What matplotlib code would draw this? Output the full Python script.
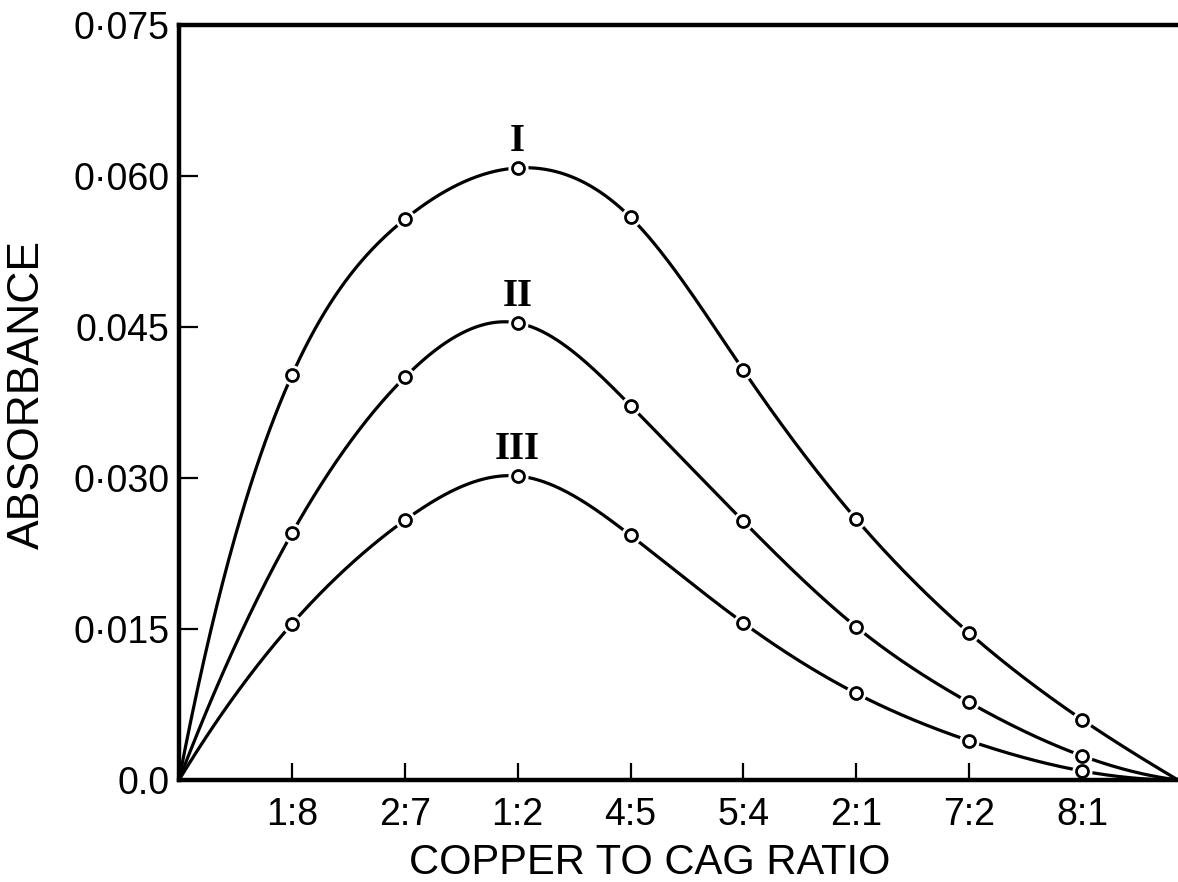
#!/usr/bin/env python3
"""
Absorbance vs copper to CAG ratio (curves I, II, III)
"""

import numpy as np
import matplotlib
matplotlib.use('Agg')
import matplotlib.pyplot as plt

plt.rcParams['font.family'] = ['Liberation Sans', 'DejaVu Sans']

# --- data ---
ratio_pos = [1, 2, 3, 4, 5, 6, 7, 8]
ratio_labels = ['1:8', '2:7', '1:2', '4:5', '5:4', '2:1', '7:2', '8:1']
curve_I = [0.0402, 0.0557, 0.0608, 0.0559, 0.0407, 0.0259, 0.0146, 0.0060]
curve_II = [0.0245, 0.0400, 0.0454, 0.0372, 0.0257, 0.0152, 0.0077, 0.0024]
curve_III = [0.0155, 0.0258, 0.0302, 0.0243, 0.0156, 0.0086, 0.0039, 0.0009]
curve_names = ['I', 'II', 'III']
y_ticks = [0.0, 0.015, 0.030, 0.045, 0.060, 0.075]
y_tick_labels = ['0.0', '0\u00b7015', '0\u00b7030', '0.045', '0\u00b7060', '0\u00b7075']

X_END = 8.85  # where the curves come back to zero (right edge of the plot)


def smooth_spline(x, y, xs):
    """Cubic spline with not-a-knot ends, only used to draw the curves"""
    x = np.asarray(x, float)
    y = np.asarray(y, float)
    n = len(x)
    h = np.diff(x)
    A = np.zeros((n, n))
    b = np.zeros(n)
    # not-a-knot: third derivative continuous at the 2nd and 2nd-last knots
    A[0, 0], A[0, 1], A[0, 2] = h[1], -(h[0] + h[1]), h[0]
    A[-1, -3], A[-1, -2], A[-1, -1] = h[-1], -(h[-2] + h[-1]), h[-2]
    for i in range(1, n - 1):
        A[i, i - 1] = h[i - 1]
        A[i, i] = 2 * (h[i - 1] + h[i])
        A[i, i + 1] = h[i]
        b[i] = 6 * ((y[i + 1] - y[i]) / h[i] - (y[i] - y[i - 1]) / h[i - 1])
    M = np.linalg.solve(A, b)
    idx = np.clip(np.searchsorted(x, xs) - 1, 0, n - 2)
    x0, x1 = x[idx], x[idx + 1]
    hh = x1 - x0
    t0 = x1 - xs
    t1 = xs - x0
    ys = (M[idx] * t0 ** 3 / (6 * hh) + M[idx + 1] * t1 ** 3 / (6 * hh)
          + (y[idx] / hh - M[idx] * hh / 6) * t0
          + (y[idx + 1] / hh - M[idx + 1] * hh / 6) * t1)
    return np.clip(ys, 0, None)


fig = plt.figure(figsize=(11.78, 8.82), dpi=100)
ax = fig.add_axes([179 / 1178, 102 / 882, 999 / 1178, 755 / 882])

for name, vals in zip(curve_names, [curve_I, curve_II, curve_III]):
    xk = [0] + ratio_pos + [X_END]
    yk = [0] + vals + [0]
    xs = np.linspace(0, X_END, 800)
    ax.plot(xs, smooth_spline(xk, yk, xs), color='black', lw=2.3,
            solid_capstyle='round', zorder=2)
    # white halo so the line stops short of each circle
    ax.plot(ratio_pos, vals, 'o', ms=14.5, mfc='white', mec='none', zorder=2.2)
    ax.plot(ratio_pos, vals, 'o', ms=8.6, mfc='white', mec='black',
            mew=2.0, zorder=3, clip_on=False)
    peak = max(vals)
    ax.text(ratio_pos[vals.index(peak)], peak + 0.0017, name,
            ha='center', va='baseline', fontsize=28, fontweight='bold',
            family=['Liberation Serif', 'DejaVu Serif'])

ax.set_xlim(0, X_END)
ax.set_ylim(0, 0.075)

ax.set_xticks(ratio_pos)
ax.set_xticklabels(ratio_labels)
ax.set_yticks(y_ticks)
ax.set_yticklabels(y_tick_labels)
ax.tick_params(axis='x', direction='in', length=12, width=1.6,
               labelsize=27, pad=12)
ax.tick_params(axis='y', direction='in', length=14, width=1.6,
               labelsize=27, pad=7)

ax.spines['right'].set_visible(False)
for side in ['left', 'bottom', 'top']:
    ax.spines[side].set_linewidth(3.2)

ax.set_xlabel('COPPER TO CAG RATIO', fontsize=30)
ax.xaxis.set_label_coords(0.471, -0.084)
ax.xaxis.label.set_va('top')
ax.set_ylabel('ABSORBANCE', fontsize=32)
ax.yaxis.set_label_coords(-0.131, 0.51)

fig.savefig('out.png', dpi=100, facecolor='white')
plt.close(fig)
